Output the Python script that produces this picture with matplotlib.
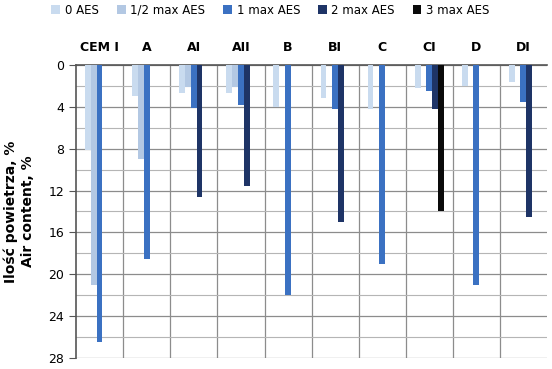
import numpy as np
import matplotlib.pyplot as plt
from matplotlib.ticker import MultipleLocator

categories = ['CEM I', 'A', 'AI', 'AII', 'B', 'BI', 'C', 'CI', 'D', 'DI']
series = ['0 AES', '1/2 max AES', '1 max AES', '2 max AES', '3 max AES']
nan = np.nan
aes_0 = [8.1, 3.0, 2.7, 2.7, 4.0, 3.2, 4.2, 2.2, 2.0, 1.6]
aes_half = [21.0, 9.0, 2.1, 2.1, nan, nan, nan, nan, nan, nan]
aes_1 = [26.5, 18.5, 4.1, 3.8, 22.0, 4.2, 19.0, 2.5, 21.0, 3.5]
aes_2 = [nan, nan, 12.6, 11.6, nan, 15.0, nan, 4.2, nan, 14.5]
aes_3 = [nan, nan, nan, nan, nan, nan, nan, 14.0, nan, nan]
colors = ['#c9dbef', '#b3c8e3', '#3b71c2', '#1e3466', '#0a0a0a']

fig = plt.figure(figsize=(5.52, 3.69), dpi=100)
ax = fig.add_axes([0.138, 0.03, 0.853, 0.794])

x = np.arange(len(categories))
w = 0.123
for k, (vals, lab) in enumerate(zip([aes_0, aes_half, aes_1, aes_2, aes_3], series)):
    ax.bar(x + 0.19 + w / 2 + k * w, vals, width=w, color=colors[k], label=lab, zorder=3)

ax.set_xlim(0, len(categories))
ax.set_ylim(28, 0)
ax.yaxis.set_major_locator(MultipleLocator(4))
ax.yaxis.set_minor_locator(MultipleLocator(2))
ax.grid(axis='y', which='major', color='#8c8c8c', lw=0.9, zorder=0)
ax.grid(axis='y', which='minor', color='#b5b5b5', lw=0.8, zorder=0)

ax.xaxis.tick_top()
ax.set_xticks(x + 0.5)
ax.set_xticklabels(categories, fontsize=9, fontweight='bold')
ax.set_xticks(np.arange(1, len(categories)), minor=True)
ax.tick_params(axis='x', which='major', length=0, pad=8)
ax.tick_params(axis='x', which='minor', length=0)
ax.grid(axis='x', which='minor', color='#8c8c8c', lw=0.9, zorder=0)
ax.tick_params(axis='y', which='major', length=5, labelsize=9, color='#555555')
ax.tick_params(axis='y', which='minor', length=0)

for s in ['right', 'bottom']:
    ax.spines[s].set_visible(False)
for s in ['left', 'top']:
    ax.spines[s].set_color('#555555')
    ax.spines[s].set_linewidth(1.2)

ax.set_ylabel('Ilość powietrza, %\nAir content, %', fontsize=10, fontweight='bold', labelpad=10)

fig.legend(loc='center', bbox_to_anchor=(0.49, 0.972), ncol=5, frameon=False,
           fontsize=8.5, handlelength=0.75, handleheight=0.75, handletextpad=0.4,
           columnspacing=1.5, borderpad=0)

fig.savefig('out.png', dpi=100)
